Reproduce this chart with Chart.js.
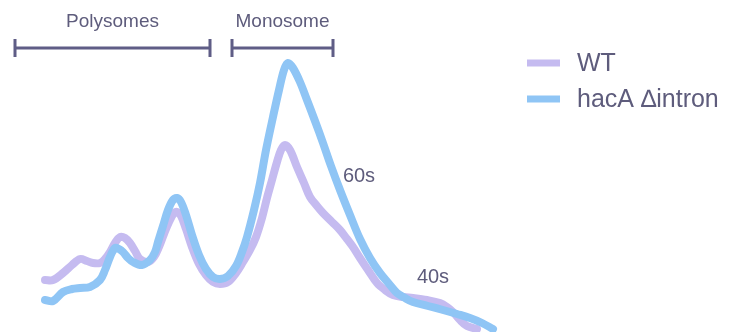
<!DOCTYPE html>
<html>
<head>
<meta charset="utf-8">
<script src="https://cdn.jsdelivr.net/npm/chart.js@4.4.1/dist/chart.umd.min.js"></script>
<style>
  html, body { margin: 0; padding: 0; background: #ffffff; }
  #wrap { width: 740px; height: 332px; position: relative; }
</style>
</head>
<body>
<div id="wrap"><canvas id="profile" width="740" height="332"></canvas></div>
<script>
// Polysome profile: absorbance along the sucrose gradient (arbitrary units)
const wtPos  = [45,53,63,72,80,87,93,100,105,110,115,120,125,130,135,140,148,154,159,164,169,174,177,181,186,192,199,206,213,220,228,236,243,250,256,262,267,272,277,281,285,290,297,304,310,317,323,332,340,347,353,360,368,377,385,393,403,413,427,440,447,453,460,467,477];
const wtAbs  = [52,52,59,67,73,71,69,69,73,80,89,95,94,89,81,73,70,75,85,98,110,119,120,116,103,85,68,57,50,48,50,59,70,82,95,114,134,152,170,182,187,182,165,149,135,126,119,110,102,93,85,74,62,49,42,37,35,34,32,29,25,20,12,6,3];

const mutPos = [45,53,63,72,80,90,100,105,110,115,119,123,128,133,142,150,155,158,163,168,173,177,181,186,192,199,206,213,220,228,236,242,247,254,260,266,273,279,284,288,293,300,307,315,323,331,340,350,360,370,380,390,397,405,413,428,443,457,470,482,493];
const mutAbs = [32,31,40,43,44,45,52,62,75,84,83,80,74,70,67,72,80,90,106,122,132,134,130,117,97,77,63,55,53,56,66,80,95,122,149,182,215,242,262,269,264,250,232,211,189,166,142,117,93,74,59,47,39,34,30,26,22,18,14,9,3];

const seriesNames = ['WT', 'hacA \u2206intron'];
const seriesColors = ['#c5bbf0', '#8fc5f5'];

const regionLabels = ['Polysomes', 'Monosome'];
const regionSpans  = [[15, 210], [232, 333]];
const peakLabels   = ['60s', '40s'];
const peakAt       = [[359, 156], [433, 55]];

const INK = '#5e5c7c';
const FONT = '"Liberation Sans", Arial, sans-serif';

function pts(xs, ys) { return xs.map((x, i) => ({ x: x, y: ys[i] })); }

const annotations = {
  id: 'annotations',
  afterDatasetsDraw(chart) {
    const { ctx, scales: { x, y } } = chart;
    ctx.save();
    // region brackets with labels
    ctx.strokeStyle = '#5f5d86';
    ctx.fillStyle = INK;
    ctx.lineWidth = 3;
    ctx.font = '19px ' + FONT;
    ctx.textAlign = 'center';
    ctx.textBaseline = 'alphabetic';
    regionSpans.forEach((span, i) => {
      const x0 = x.getPixelForValue(span[0]);
      const x1 = x.getPixelForValue(span[1]);
      const yb = 48;
      ctx.beginPath();
      ctx.moveTo(x0, yb); ctx.lineTo(x1, yb);
      ctx.moveTo(x0, yb - 9); ctx.lineTo(x0, yb + 9);
      ctx.moveTo(x1, yb - 9); ctx.lineTo(x1, yb + 9);
      ctx.stroke();
      ctx.fillText(regionLabels[i], (x0 + x1) / 2, 27);
    });
    // ribosomal subunit labels
    ctx.font = '20px ' + FONT;
    ctx.textBaseline = 'middle';
    peakLabels.forEach((t, i) => {
      ctx.fillText(t, x.getPixelForValue(peakAt[i][0]), y.getPixelForValue(peakAt[i][1]));
    });
    // legend
    ctx.textAlign = 'left';
    ctx.font = '25px ' + FONT;
    const rows = [63, 99];
    chart.data.datasets.forEach((ds, i) => {
      ctx.strokeStyle = ds.borderColor;
      ctx.lineWidth = 7;
      ctx.lineCap = 'butt';
      ctx.beginPath();
      ctx.moveTo(527, rows[i]); ctx.lineTo(560, rows[i]);
      ctx.stroke();
      ctx.fillStyle = INK;
      ctx.fillText(ds.label, 577, rows[i] + 1);
    });
    ctx.restore();
  }
};

new Chart(document.getElementById('profile'), {
  type: 'line',
  data: {
    datasets: [
      { label: seriesNames[0], data: pts(wtPos, wtAbs), borderColor: seriesColors[0], order: 2 },
      { label: seriesNames[1], data: pts(mutPos, mutAbs), borderColor: seriesColors[1], order: 1 }
    ]
  },
  options: {
    responsive: false,
    animation: false,
    devicePixelRatio: 1,
    layout: { padding: 0 },
    elements: {
      point: { radius: 0 },
      line: { borderWidth: 8, tension: 0.35, borderCapStyle: 'round', borderJoinStyle: 'round', fill: false }
    },
    scales: {
      x: { type: 'linear', min: 0, max: 740, display: false },
      y: { type: 'linear', min: 0, max: 332, display: false }
    },
    plugins: { legend: { display: false }, tooltip: { enabled: false } }
  },
  plugins: [annotations]
});
</script>
</body>
</html>
